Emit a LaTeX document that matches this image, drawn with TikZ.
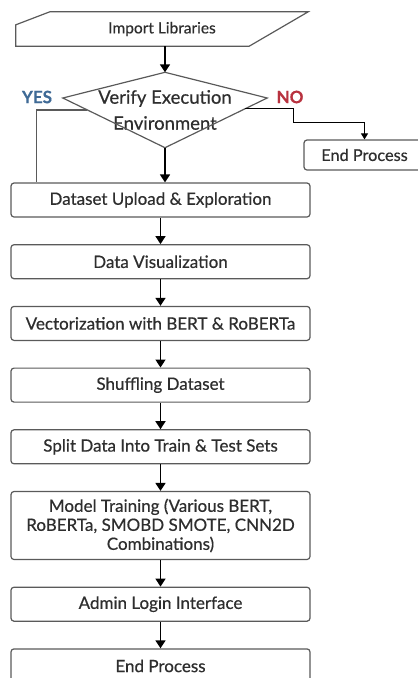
\documentclass[tikz,border=0pt]{standalone}
\usepackage{fontspec}
\setmainfont{Lato}[FakeBold=0.5]
\usetikzlibrary{arrows.meta,positioning,calc}
\definecolor{boxline}{HTML}{5A5A5A}
\definecolor{boxtext}{HTML}{2E2E2E}
\definecolor{yescol}{HTML}{3F6A96}
\definecolor{nocol}{HTML}{B8323F}
\tikzset{
  process/.style={draw=boxline,line width=1.2pt,rounded corners=3pt,fill=white,
    text=boxtext,minimum width=299pt,minimum height=34pt,align=center,
    font=\fontsize{17}{19}\selectfont},
  flow/.style={-{Triangle[length=8pt,width=10pt]},line width=1.6pt},
  link/.style={line width=1.2pt,draw=boxline},
  answer/.style={font=\bfseries\fontsize{17}{20}\selectfont}
}
\begin{document}
\begin{tikzpicture}[x=1pt,y=-1pt,node distance=26.5pt]
  \useasboundingbox (0,0) rectangle (418,678);
  \node[minimum width=292pt,minimum height=34pt,text=boxtext,
    font=\fontsize{15.5}{18}\selectfont] (imp) at (162,29) {Import Libraries};
  \draw[link] ($(imp.north west)+(34,0)$) -- (imp.north east)
    -- ($(imp.south east)+(-59,0)$) -- (imp.south west)
    -- ($(imp.north west)+(0,13)$) -- cycle;
  \node[minimum width=204pt,minimum height=75pt,text=boxtext,align=center,
    font=\fontsize{18.5}{26}\selectfont] (verify) at (165,110)
    {Verify Execution\\Environment};
  \coordinate (vw) at ($(verify.west)+(0,-12)$);
  \coordinate (ve) at ($(verify.east)+(0,-12)$);
  \draw[link] (verify.north) -- (ve) -- (verify.south) -- (vw) -- cycle;
  \node[answer,text=yescol] (yes) at (37,97) {YES};
  \node[answer,text=nocol] (no) at (290,97) {NO};
  \node[process,minimum width=121pt,minimum height=30pt,
    font=\fontsize{16.3}{19}\selectfont] (quit) at (364.5,155) {End Process};
  \node[process] (data) at (160.5,200) {Dataset Upload \& Exploration};
  \node[process,below=of data] (vis) {Data Visualization};
  \node[process,below=of vis] (vec) {Vectorization with BERT \& RoBERTa};
  \node[process,below=of vec] (shuffle) {Shuffling Dataset};
  \node[process,below=of shuffle] (split) {Split Data Into Train \& Test Sets};
  \node[process,minimum height=68pt,below=of split] (train)
    {Model Training (Various BERT,\\RoBERTa, SMOBD SMOTE, CNN2D\\Combinations)};
  \node[process,below=of train] (admin) {Admin Login Interface};
  \node[process,below=of admin] (finish) {End Process};
  \coordinate (yesat) at ($(vw)!0.24!(verify.south)$);
  \coordinate (yesend) at ($(data.north west)+(26,0)$);
  \coordinate (noat) at ($(ve)!0.22!(verify.south)$);
  \coordinate (nobend) at (293,122);
  \draw[flow] (imp.south -| verify.north) -- (verify.north);
  \draw[flow] (verify.south) -- (verify.south |- data.north);
  \draw[link] (yesat) -| (yesend);
  \draw[flow,line width=1pt,-{Triangle[length=6pt,width=7pt]}] (noat) -| (nobend) -| (quit.north);
  \draw[flow] (data) -- (vis);
  \draw[flow] (vis) -- (vec);
  \draw[flow] (vec) -- (shuffle);
  \draw[flow] (shuffle) -- (split);
  \draw[flow] (split) -- (train);
  \draw[flow] (train) -- (admin);
  \draw[flow] (admin) -- (finish);
\end{tikzpicture}
\end{document}
